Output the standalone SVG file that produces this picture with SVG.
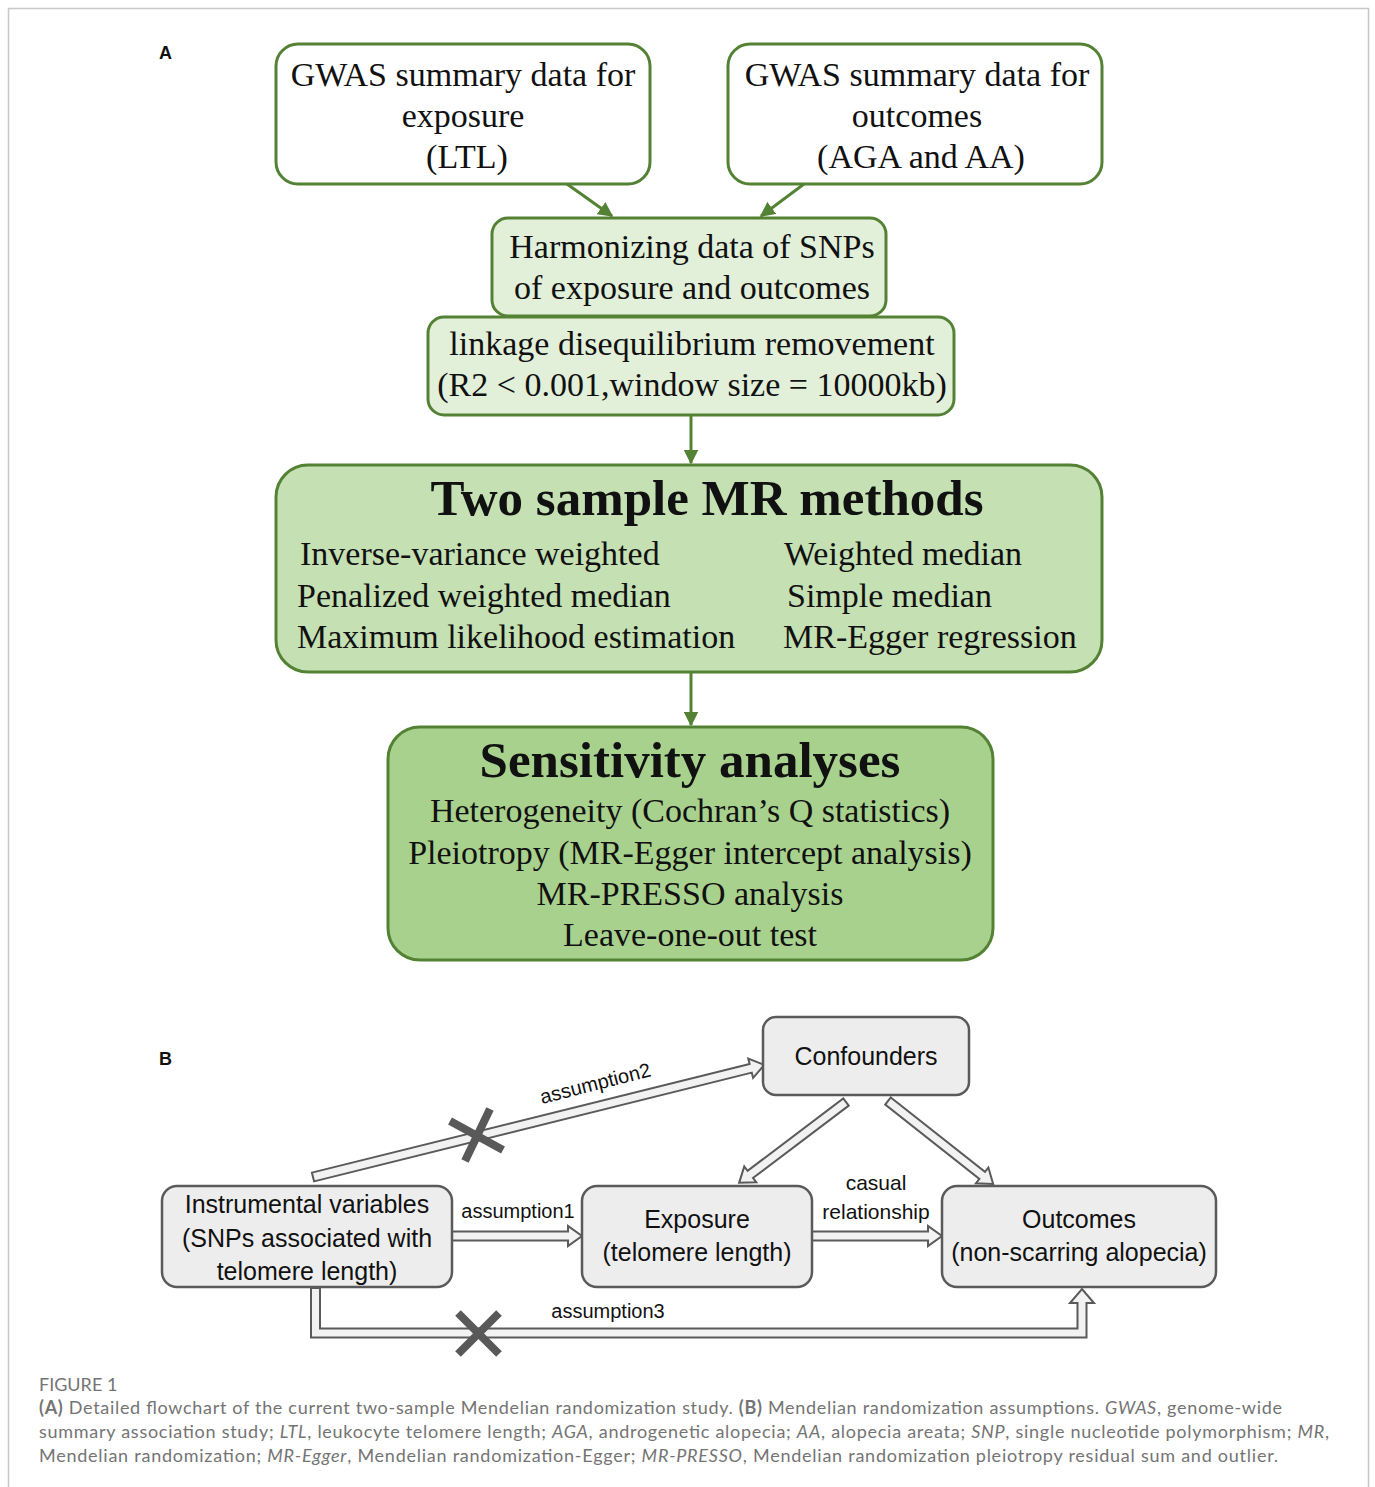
<svg xmlns="http://www.w3.org/2000/svg" width="1375" height="1487" viewBox="0 0 1375 1487">
<style>
.serif{font-family:"Liberation Serif","Times New Roman",serif;fill:#111;}
.t34{font-size:34px;}
.bold{font-weight:bold;font-size:51px;}
.gbox{stroke:#548235;stroke-width:3;}
.sans{font-family:"Liberation Sans",Arial,sans-serif;fill:#111;}
.b25{font-size:25px;}
.lab{font-size:20px;}
.lab21{font-size:21px;}
.grey{fill:#ededed;stroke:#5a5a5a;stroke-width:2.5;}
.hol{fill:#f2f2f2;stroke:#5a5a5a;stroke-width:2;}
.gline{stroke:#548235;stroke-width:3;fill:none;marker-end:url(#ga);}
.xm{stroke:#595959;stroke-width:8;stroke-linecap:butt;}
.cap{font-family:Lato,"Open Sans",sans-serif;font-size:18px;fill:#747474;}
</style>
<defs>
<marker id="ga" viewBox="0 0 10 10" refX="9" refY="5" markerWidth="5" markerHeight="5" orient="auto" markerUnits="strokeWidth">
<path d="M0,0 L10,5 L0,10 z" fill="#548235"/>
</marker>
</defs>
<rect width="1375" height="1487" fill="#fff"/>
<path d="M8.5,1487 V8.5 H1368.5 V1487" fill="none" stroke="#c8c8c8" stroke-width="1.5"/>

<text x="159" y="59" font-family="Liberation Sans,Arial,sans-serif" font-weight="bold" font-size="18" fill="#111">A</text>
<text x="159" y="1065" font-family="Liberation Sans,Arial,sans-serif" font-weight="bold" font-size="18" fill="#111">B</text>

<g id="connectors">
<line class="gline" x1="567" y1="184" x2="612" y2="216"/>
<line class="gline" x1="804" y1="184" x2="761" y2="216"/>
<line class="gline" x1="691" y1="416" x2="691" y2="463"/>
<line class="gline" x1="691" y1="673" x2="691" y2="725"/>

<polygon class="hol" transform="translate(452,1236)" points="0,-4.5 116,-4.5 116,-10 130,0 116,10 116,4.5 0,4.5"/>
<polygon class="hol" transform="translate(812,1236)" points="0,-4.5 116,-4.5 116,-10 130,0 116,10 116,4.5 0,4.5"/>
<polygon class="hol" transform="translate(313,1177) rotate(-13.95)" points="0,-4.5 451,-4.5 451,-10 465,0 451,10 451,4.5 0,4.5"/>
<polygon class="hol" transform="translate(846,1102) rotate(142.9)" points="0,-4.5 120,-4.5 120,-10 134,0 120,10 120,4.5 0,4.5"/>
<polygon class="hol" transform="translate(888,1101) rotate(38.3)" points="0,-4.5 120,-4.5 120,-10 134,0 120,10 120,4.5 0,4.5"/>
<polygon class="hol" points="311,1288 311,1337.5 1086.5,1337.5 1086.5,1303 1094,1303 1082,1289 1070,1303 1077.5,1303 1077.5,1328.5 320,1328.5 320,1288"/>

<line class="xm" x1="465" y1="1161" x2="490" y2="1109"/>
<line class="xm" x1="450" y1="1121" x2="503" y2="1150"/>
<line class="xm" x1="458" y1="1313" x2="499" y2="1354"/>
<line class="xm" x1="499" y1="1313" x2="458" y2="1354"/>

<text class="sans lab" transform="translate(597,1090) rotate(-14.3)" text-anchor="middle">assumption2</text>
<text class="sans lab" x="518" y="1218" text-anchor="middle">assumption1</text>
<text class="sans lab21" x="876" y="1190" text-anchor="middle">casual</text>
<text class="sans lab21" x="876" y="1219" text-anchor="middle">relationship</text>
<text class="sans lab" x="608" y="1318" text-anchor="middle">assumption3</text>
</g>

<g id="gwas-exposure">
<rect class="gbox" x="276" y="44" width="374" height="140" rx="22" fill="#fff"/>
<text class="serif t34" x="463" y="86" text-anchor="middle">GWAS summary data for</text>
<text class="serif t34" x="463" y="127" text-anchor="middle">exposure</text>
<text class="serif t34" x="467" y="168" text-anchor="middle">(LTL)</text>
</g>

<g id="gwas-outcomes">
<rect class="gbox" x="728" y="44" width="374" height="140" rx="22" fill="#fff"/>
<text class="serif t34" x="917" y="86" text-anchor="middle">GWAS summary data for</text>
<text class="serif t34" x="917" y="127" text-anchor="middle">outcomes</text>
<text class="serif t34" x="921" y="168" text-anchor="middle">(AGA and AA)</text>
</g>

<g id="harmonizing">
<rect class="gbox" x="492" y="218" width="394" height="98" rx="16" fill="#e2efd9"/>
<text class="serif t34" x="692" y="258" text-anchor="middle">Harmonizing data of SNPs</text>
<text class="serif t34" x="692" y="299" text-anchor="middle">of exposure and outcomes</text>
</g>

<g id="ld-removal">
<rect class="gbox" x="428" y="317" width="526" height="98" rx="16" fill="#e2efd9"/>
<text class="serif t34" x="692" y="355" text-anchor="middle">linkage disequilibrium removement</text>
<text class="serif t34" x="692" y="396" text-anchor="middle">(R2 &lt; 0.001,window size = 10000kb)</text>
</g>

<g id="mr-methods">
<rect class="gbox" x="276" y="465" width="826" height="207" rx="32" fill="#c5e0b3"/>
<text class="serif bold" x="707" y="515" text-anchor="middle">Two sample MR methods</text>
<text class="serif t34" x="300" y="565">Inverse-variance weighted</text>
<text class="serif t34" x="297" y="607">Penalized weighted median</text>
<text class="serif t34" x="297" y="648">Maximum likelihood estimation</text>
<text class="serif t34" x="784" y="565">Weighted median</text>
<text class="serif t34" x="787" y="607">Simple median</text>
<text class="serif t34" x="783" y="648">MR-Egger regression</text>
</g>

<g id="sensitivity">
<rect class="gbox" x="388" y="727" width="605" height="233" rx="32" fill="#a9d18e"/>
<text class="serif bold" x="690" y="777" text-anchor="middle">Sensitivity analyses</text>
<text class="serif t34" x="690" y="822" text-anchor="middle">Heterogeneity (Cochran’s Q statistics)</text>
<text class="serif t34" x="690" y="864" text-anchor="middle">Pleiotropy (MR-Egger intercept analysis)</text>
<text class="serif t34" x="690" y="905" text-anchor="middle">MR-PRESSO analysis</text>
<text class="serif t34" x="690" y="946" text-anchor="middle">Leave-one-out test</text>
</g>

<g id="confounders">
<rect class="grey" x="763" y="1017" width="206" height="78" rx="13"/>
<text class="sans b25" x="866" y="1065" text-anchor="middle">Confounders</text>
</g>

<g id="instrumental">
<rect class="grey" x="162" y="1186" width="290" height="101" rx="15"/>
<text class="sans b25" x="307" y="1213" text-anchor="middle">Instrumental variables</text>
<text class="sans b25" x="307" y="1247" text-anchor="middle">(SNPs associated with</text>
<text class="sans b25" x="307" y="1280" text-anchor="middle">telomere length)</text>
</g>

<g id="exposure">
<rect class="grey" x="582" y="1186" width="230" height="101" rx="15"/>
<text class="sans b25" x="697" y="1228" text-anchor="middle">Exposure</text>
<text class="sans b25" x="697" y="1261" text-anchor="middle">(telomere length)</text>
</g>

<g id="outcomes">
<rect class="grey" x="942" y="1186" width="274" height="101" rx="15"/>
<text class="sans b25" x="1079" y="1228" text-anchor="middle">Outcomes</text>
<text class="sans b25" x="1079" y="1261" text-anchor="middle">(non-scarring alopecia)</text>
</g>

<g id="caption">
<text class="cap" x="39" y="1391" font-size="14">FIGURE 1</text>
<text class="cap" x="39" y="1414" textLength="1243" lengthAdjust="spacing"><tspan font-weight="bold">(A)</tspan> Detailed flowchart of the current two-sample Mendelian randomization study. <tspan font-weight="bold">(B)</tspan> Mendelian randomization assumptions. <tspan font-style="italic">GWAS</tspan>, genome-wide</text>
<text class="cap" x="39" y="1438" textLength="1290" lengthAdjust="spacing">summary association study; <tspan font-style="italic">LTL</tspan>, leukocyte telomere length; <tspan font-style="italic">AGA</tspan>, androgenetic alopecia; <tspan font-style="italic">AA</tspan>, alopecia areata; <tspan font-style="italic">SNP</tspan>, single nucleotide polymorphism; <tspan font-style="italic">MR</tspan>,</text>
<text class="cap" x="39" y="1462" textLength="1239" lengthAdjust="spacing">Mendelian randomization; <tspan font-style="italic">MR-Egger</tspan>, Mendelian randomization-Egger; <tspan font-style="italic">MR-PRESSO</tspan>, Mendelian randomization pleiotropy residual sum and outlier.</text>
</g>
</svg>
